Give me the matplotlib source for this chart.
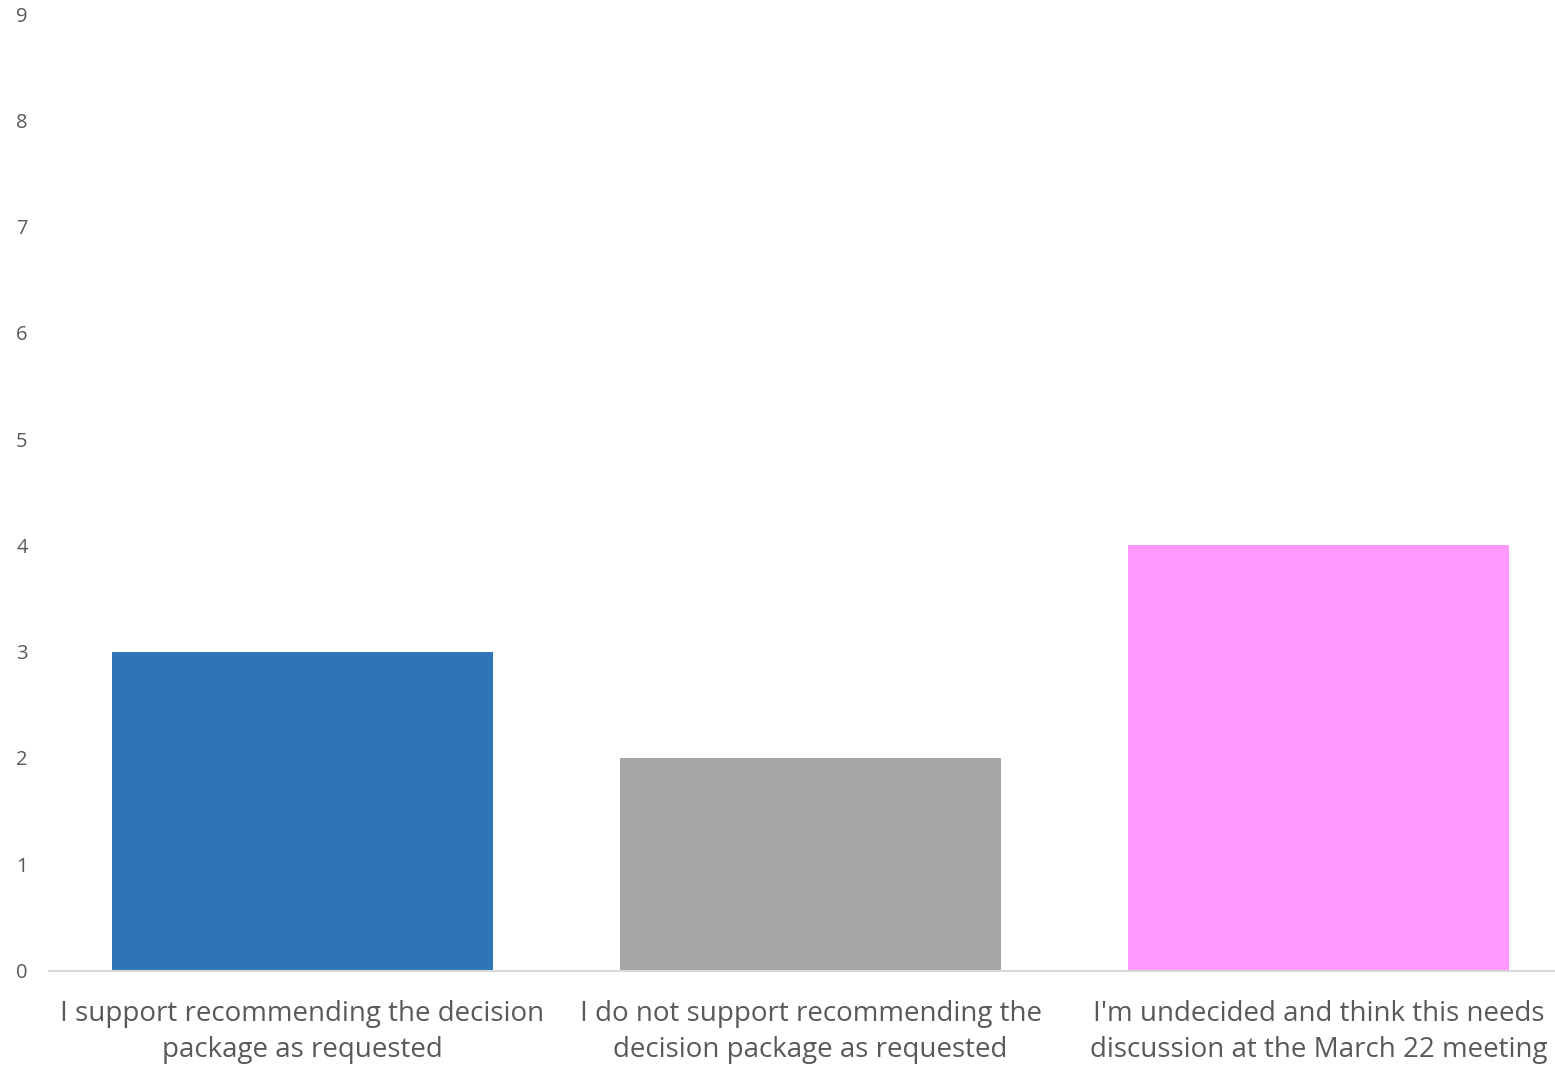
import matplotlib.pyplot as plt

# survey responses
categories = ["I support recommending the decision\npackage as requested",
              "I do not support recommending the\ndecision package as requested",
              "I'm undecided and think this needs\ndiscussion at the March 22 meeting"]
counts = [3, 2, 4]
colors = ['#2E75B6', '#A5A5A5', '#FF99FF']
yticks = list(range(0, 10))

plt.rcParams['font.family'] = ['Open Sans', 'DejaVu Sans']

W, H = 1555, 1071
fig = plt.figure(figsize=(W / 100, H / 100), dpi=100)
bottom = 1 - 970.5 / H
top = 1 - 14 / H
ax = fig.add_axes([48.5 / W, bottom, 1524 / W, top - bottom])

x = list(range(len(categories)))
ax.bar(x, counts, width=0.75, color=colors, zorder=2)

ax.set_xlim(-0.5, 2.5)
ax.set_ylim(0, 9)
ax.set_yticks(yticks)
ax.set_xticks(x)
ax.set_xticklabels(categories, fontsize=20, color='#595959', linespacing=1.42)
ax.tick_params(axis='y', length=0, pad=15, labelsize=14.5, labelcolor='#595959')
ax.tick_params(axis='x', length=0, pad=21)

for s in ['top', 'right', 'left']:
    ax.spines[s].set_visible(False)
ax.spines['bottom'].set_color('#D9D9D9')
ax.spines['bottom'].set_linewidth(1.5)

fig.savefig('out.png', dpi=100)
